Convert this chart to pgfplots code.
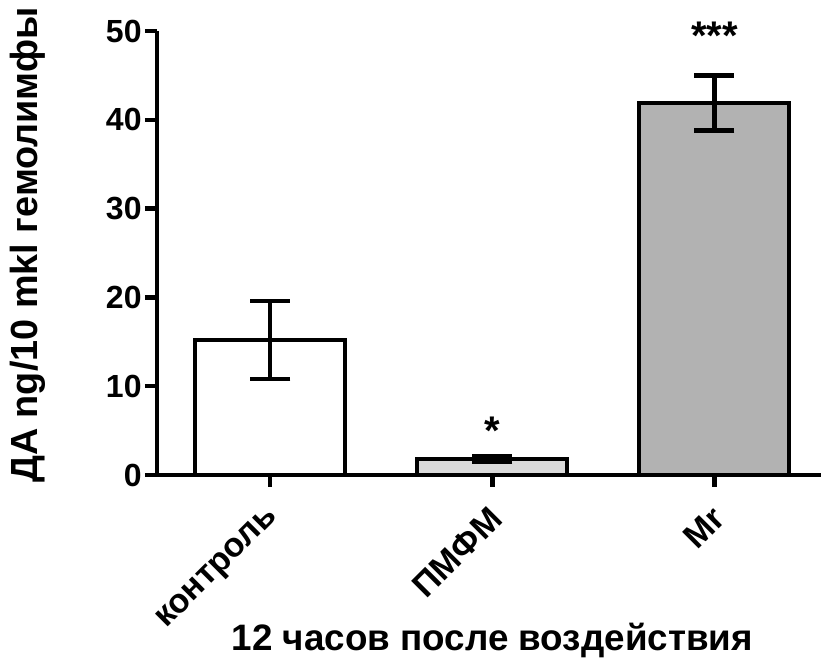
\documentclass[border=0pt]{standalone}
\usepackage{fontspec}
\setmainfont{Liberation Sans}
\usepackage{pgfplots}
\pgfplotsset{compat=1.18}
\definecolor{barlight}{HTML}{DADADA}
\definecolor{bargray}{HTML}{B2B2B2}
\begin{document}
\begin{tikzpicture}
\path[use as bounding box] (-78.5pt,-96.5pt) rectangle (332pt,237.5pt);
\begin{axis}[
  at={(0pt,0pt)}, anchor=south west,
  scale only axis,
  width=332pt, height=222pt,
  xmin=-0.51, xmax=2.48,
  ymin=0, ymax=50,
  axis lines*=left,
  axis line style={line width=2.4pt, -},
  clip=false,
  ytick={0,10,20,30,40,50},
  xtick={0,1,2},
  xticklabels={контроль,ПМФМ,Mr},
  tick align=outside,
  major tick length=6pt,
  tick style={line width=2.2pt, black},
  /pgf/number format/assume math mode=true,
  yticklabel style={font=\fontsize{16}{19}\selectfont\bfseries, inner sep=1.5pt},
  xticklabel style={font=\fontsize{17}{20}\selectfont\bfseries, yshift=-13pt, xshift=2pt, rotate=45, anchor=east, inner sep=0pt},
  xlabel={12 часов после воздействия},
  ylabel={ДА ng/10 mkl гемолимфы},
  every axis x label/.style={at={(axis description cs:0.505,0)}, anchor=center, yshift=-82.5pt, font=\fontsize{18.4}{21}\selectfont\bfseries},
  every axis y label/.style={at={(axis description cs:0,0.518)}, xshift=-64.5pt, rotate=90, anchor=center, font=\fontsize{18.9}{22}\selectfont\bfseries},
  ybar,
  bar width=0.675,
  error bars/y dir=both,
  error bars/y explicit,
  error bars/error bar style={line width=2.2pt, black},
  error bars/error mark options={rotate=90, mark size=10pt, line width=2.2pt, black},
]
\addplot[bar shift=0pt, fill=white, draw=black, line width=2pt] coordinates {(0,15.2) +- (0,4.4)};
\addplot[bar shift=0pt, fill=barlight, draw=black, line width=2pt] coordinates {(1,1.8) +- (0,0.3)};
\addplot[bar shift=0pt, fill=bargray, draw=black, line width=2pt] coordinates {(2,41.9) +- (0,3.1)};
\node[anchor=base, font=\fontsize{20}{22}\selectfont\bfseries] at (axis cs:1,3.4) {*};
\node[anchor=base, font=\fontsize{20}{22}\selectfont\bfseries] at (axis cs:2,47.9) {***};
\end{axis}
\end{tikzpicture}
\end{document}
